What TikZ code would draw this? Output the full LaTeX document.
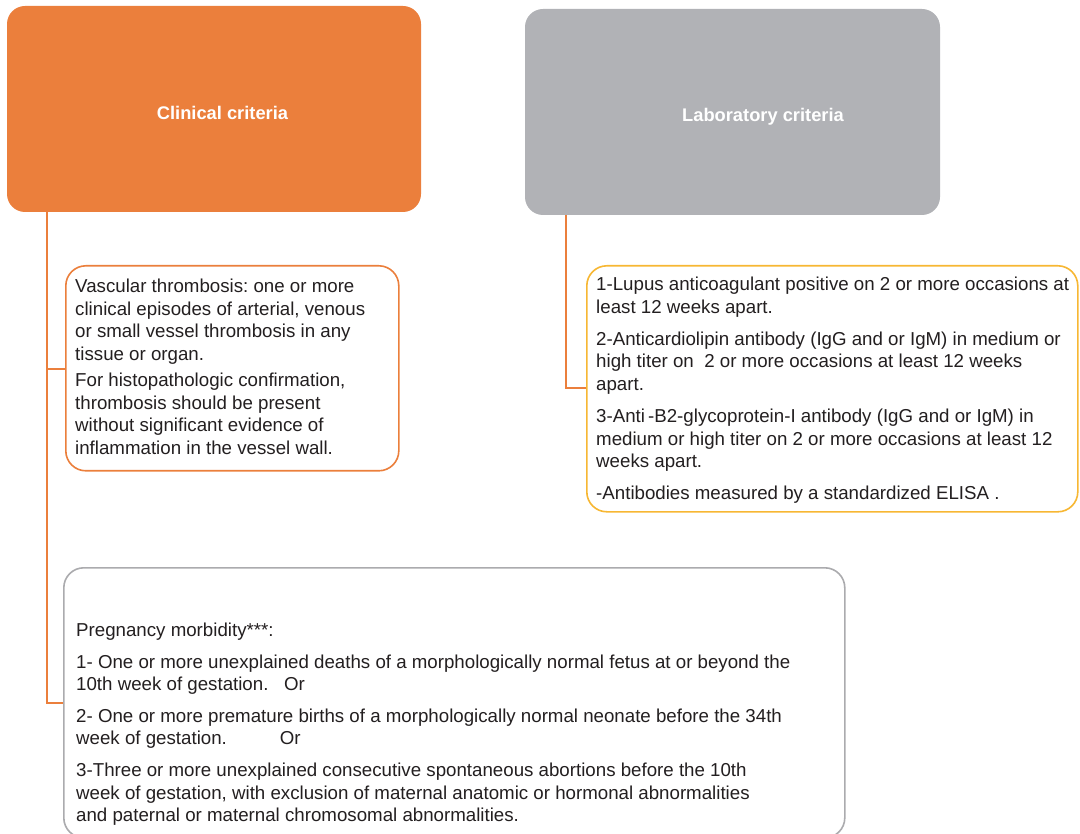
\documentclass[tikz,border=0pt]{standalone}
\usepackage{fontspec}
\setmainfont{Liberation Sans}
\usetikzlibrary{calc}
\frenchspacing
\definecolor{corange}{HTML}{EB7F3C}
\definecolor{cgrayfill}{HTML}{B1B2B6}
\definecolor{cyellow}{HTML}{F7B733}
\definecolor{cgrayline}{HTML}{ABABAE}
\definecolor{ctext}{HTML}{231F20}
\tikzset{
  header/.style={draw=none, rounded corners=18pt},
  hdrtext/.style={text=white, font=\fontsize{18.3}{22}\selectfont\bfseries, inner sep=0pt, anchor=base},
  itembox/.style={line width=1.6pt, rounded corners=20pt, fill=white},
  bodytext/.style={text=ctext, font=\fontsize{18.7}{22.6}\selectfont\frenchspacing, inner sep=0pt, anchor=north west, align=left},
  conn/.style={draw=corange, line width=1.8pt},
}
\begin{document}
\begin{tikzpicture}[x=1pt,y=-1pt]
\useasboundingbox (0,0) rectangle (1080,834);
\begin{scope}
\clip (0,0) rectangle (1080,834);
% header boxes
\path[header, fill=corange] (7,6) rectangle (421,212);
\node[inner sep=0pt] (clin) at (214,109) {};
\path[header, fill=cgrayfill] (525,9) rectangle (940,215);
\node[inner sep=0pt] (lab) at (732.5,112) {};
\node[hdrtext] (clintext) at (222.5,120) {Clinical criteria};
\node[hdrtext] (labtext) at (763,122) {Laboratory criteria};
% item boxes
\node[itembox, draw=corange, minimum width=333pt, minimum height=205pt, anchor=north west, inner sep=0pt] (vasc) at (65,265) {};
\node[itembox, draw=cyellow, minimum width=491pt, minimum height=246pt, anchor=north west, inner sep=0pt] (labbox) at (586,265) {};
\node[itembox, draw=cgrayline, minimum width=781pt, minimum height=270pt, anchor=north west, inner sep=0pt] (preg) at (63,567) {};
% connectors
\coordinate (c1top) at (47,212);
\coordinate (c1v) at (47,369);
\coordinate (c1p) at (47,703);
\draw[conn] (c1top) -- (c1p) -- (c1p -| preg.west);
\draw[conn] (c1v) -- (c1v -| vasc.west);
\coordinate (c2top) at (566,215);
\coordinate (c2b) at (566,388);
\draw[conn] (c2top) -- (c2b) -- (c2b -| labbox.west);
% texts
\node[bodytext] (vasctext) at (75,276.5) {\strut Vascular thrombosis: one or more\\
clinical episodes of arterial, venous\\
or small vessel thrombosis in any\\
tissue or organ.\\[3.5pt]
For histopathologic confirmation,\\
thrombosis should be present\\
without significant evidence of\\
inflammation in the vessel wall.};
\node[bodytext] (labtextb) at (596,274.5) {\strut 1-Lupus anticoagulant positive on 2 or more occasions at\\
least 12 weeks apart.\\[9.5pt]
2-Anticardiolipin antibody (IgG and or IgM) in medium or\\
high titer on \ 2 or more occasions at least 12 weeks\\
apart.\\[9.5pt]
3-Anti\,-B2-glycoprotein-I antibody (IgG and or IgM) in\\
medium or high titer on 2 or more occasions at least 12\\
weeks apart.\\[9.5pt]
-Antibodies measured by a standardized ELISA .};
\node[bodytext] (pregtext) at (76,620.5) {\strut Pregnancy morbidity***:\\[9pt]
1- One or more unexplained deaths of a morphologically normal fetus at or beyond the\\
10th week of gestation. \ \ Or\\[9pt]
2- One or more premature births of a morphologically normal neonate before the 34th\\
week of gestation. \qquad\ \ Or\\[9pt]
3-Three or more unexplained consecutive spontaneous abortions before the 10th\\
week of gestation, with exclusion of maternal anatomic or hormonal abnormalities\\
and paternal or maternal chromosomal abnormalities.};
\end{scope}
\end{tikzpicture}
\end{document}
